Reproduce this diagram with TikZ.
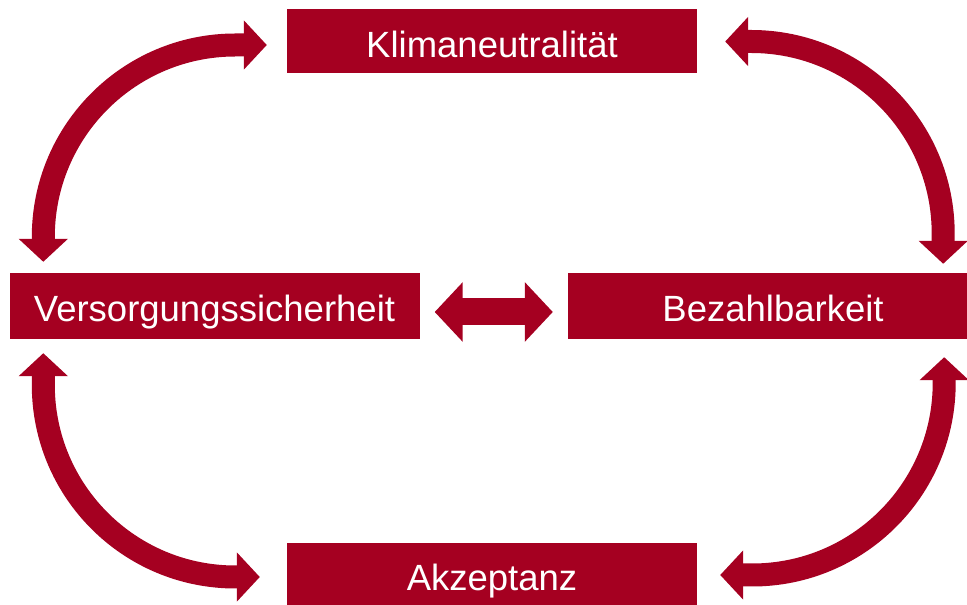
\documentclass[tikz,border=0pt]{standalone}
\usepackage{fontspec}
\setmainfont{Liberation Sans}
\usetikzlibrary{arrows.meta}
\definecolor{bordeaux}{HTML}{A50021}

\begin{document}
\begin{tikzpicture}
    [
    x=1pt, y=1pt,
    box/.style={fill=bordeaux, text=white, inner sep=0pt, minimum width=410pt,
      minimum height=64pt, text height=32pt, text depth=0pt,
      font=\fontsize{36.5}{40}\selectfont},
    link/.style={draw=bordeaux, line width=23pt, rounded corners=192pt,
      {Triangle[width=48pt,length=23pt]}-{Triangle[width=48pt,length=23pt]}},
    swap/.style={draw=bordeaux, line width=27pt,
      {Triangle[width=58pt,length=28pt]}-{Triangle[width=58pt,length=28pt]}},
    ]
    \useasboundingbox (0,0) rectangle (967,605);

    % the four boxes
    \node[box] (klima) at (492,563.5) {Klimaneutralität};
    \node[box, minimum height=66pt] (vers) at (214.5,299) {Versorgungssicherheit};
    \node[box, minimum height=66pt] (bez) at (773,299) {Bezahlbarkeit};
    \node[box] (akz) at (492,30) {Akzeptanz};

    % arrow ends
    \coordinate (tl-a) at ([xshift=34pt,yshift=11pt]vers.north west);
    \coordinate (tl-b) at ([xshift=-20pt,yshift=-3.5pt]klima.west);
    \coordinate (tr-a) at ([xshift=28pt]klima.east);
    \coordinate (tr-b) at ([xshift=-35pt,yshift=9pt]bez.north east);
    \coordinate (bl-a) at ([xshift=34pt,yshift=-14pt]vers.south west);
    \coordinate (bl-b) at ([xshift=-27pt,yshift=-2pt]akz.west);
    \coordinate (br-a) at ([xshift=-34pt,yshift=-18pt]bez.south east);
    \coordinate (br-b) at ([xshift=23pt]akz.east);
    \coordinate (mid-a) at ([xshift=15pt,yshift=-6pt]vers.east);
    \coordinate (mid-b) at ([xshift=-15pt,yshift=-6pt]bez.west);

    \draw[link] (tl-a) |- (tl-b);
    \draw[link] (tr-a) -| (tr-b);
    \draw[link] (bl-a) |- (bl-b);
    \draw[link] (br-a) |- (br-b);
    \draw[swap] (mid-a) -- (mid-b);
  \end{tikzpicture}
\end{document}
